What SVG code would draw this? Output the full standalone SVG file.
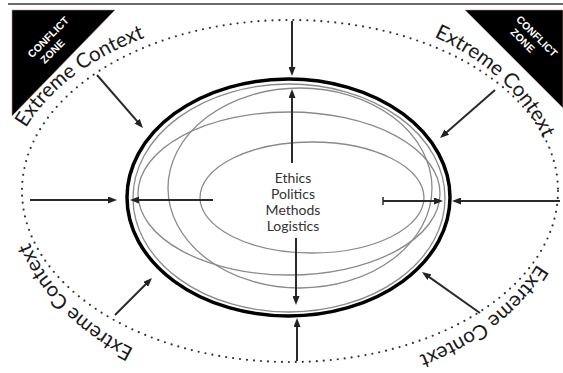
<svg xmlns="http://www.w3.org/2000/svg" width="563" height="373" viewBox="0 0 563 373">
  <style>
    .ctx { font-family: Lato, "Open Sans", sans-serif; font-size: 20.5px; fill: #1a1a1a; }
    .zone { font-family: "Liberation Sans", Arial, sans-serif; font-size: 10.5px; font-weight: bold; fill: #ffffff; text-anchor: middle; }
    .core { font-family: Lato, "Open Sans", sans-serif; font-size: 14px; fill: #333333; text-anchor: middle; }
    .ring { fill: none; stroke: #8a8a8a; stroke-width: 1.3; }
    .arr { stroke: #2a2a2a; stroke-width: 2; fill: none; marker-end: url(#ah); }
  </style>
  <defs>
    <marker id="ah" viewBox="0 0 9 7" refX="4" refY="3.5" markerWidth="9" markerHeight="7" orient="auto" markerUnits="userSpaceOnUse">
      <path d="M0,0 L9,3.5 L0,7 z" fill="#222222"/>
    </marker>
    <!-- baselines for the curved labels, all running clockwise -->
    <path id="arcTL" d="M 26,128 A 282,179 0 0 1 265.6,12.7"/>
    <path id="arcTR" d="M 434,36.8 A 264,184 0 0 1 545,238.6"/>
    <path id="arcBR" d="M 537,264 A 268,188 0 0 1 243.5,376.1"/>
    <path id="arcBL" d="M 134,349 A 272,198 0 0 1 22.1,156.6"/>
  </defs>

  <rect width="563" height="373" fill="#ffffff"/>

  <!-- top rule -->
  <line x1="8" y1="4" x2="563" y2="4" stroke="#6a6a6a" stroke-width="2"/>

  <!-- conflict zone corners -->
  <g id="zone-left">
    <polygon points="12,10 115,10 12,116" fill="#000000" stroke="#b89090" stroke-width="0.6"/>
    <g transform="translate(48,37) rotate(-45)">
      <text class="zone" x="0" y="4">CONFLICT</text>
      <text class="zone" x="-7" y="17">ZONE</text>
    </g>
  </g>
  <g id="zone-right">
    <polygon points="465,10 563,10 563,108" fill="#000000" stroke="#b89090" stroke-width="0.6"/>
    <g transform="translate(537,36) rotate(45)">
      <text class="zone" x="0" y="4">CONFLICT</text>
      <text class="zone" x="-7" y="17">ZONE</text>
    </g>
  </g>

  <!-- extreme context boundary -->
  <g id="context-boundary">
    <ellipse cx="290" cy="191" rx="268" ry="171" fill="none" stroke="#333333" stroke-width="2.2" stroke-linecap="round" stroke-dasharray="0 7"/>
  </g>

  <!-- curved labels -->
  <g id="labels">
    <text class="ctx"><textPath href="#arcTL">Extreme Context</textPath></text>
    <text class="ctx"><textPath href="#arcTR">Extreme Context</textPath></text>
    <text class="ctx"><textPath href="#arcBR">Extreme Context</textPath></text>
    <text class="ctx"><textPath href="#arcBL">Extreme Context</textPath></text>
  </g>

  <!-- research core: overlapping domains inside the project boundary -->
  <g id="core">
    <ellipse class="ring" cx="289" cy="198" rx="156" ry="114"/>
    <ellipse class="ring" cx="300" cy="188" rx="132" ry="100"/>
    <ellipse class="ring" cx="289" cy="193.5" rx="151" ry="81.5"/>
    <ellipse class="ring" cx="312" cy="197.5" rx="112" ry="55.5"/>
    <ellipse cx="288.5" cy="197.5" rx="161.5" ry="118.5" fill="none" stroke="#000000" stroke-width="3.5"/>
    <text class="core" x="293" y="183">Ethics</text>
    <text class="core" x="293" y="199">Politics</text>
    <text class="core" x="293" y="215">Methods</text>
    <text class="core" x="293" y="231">Logistics</text>
  </g>

  <!-- pressures inward and outward -->
  <g id="connectors">
    <line class="arr" x1="292" y1="21" x2="292" y2="71"/>
    <line class="arr" x1="292" y1="163" x2="292" y2="94"/>
    <line class="arr" x1="296" y1="238" x2="296" y2="300"/>
    <line class="arr" x1="297" y1="361" x2="297" y2="323"/>
    <line class="arr" x1="30" y1="200" x2="112" y2="200"/>
    <line class="arr" x1="213" y1="200" x2="135" y2="200"/>
    <line class="arr" x1="383" y1="201" x2="438" y2="201"/>
    <line x1="383" y1="197" x2="383" y2="205" stroke="#2a2a2a" stroke-width="1.5"/>
    <line class="arr" x1="560" y1="201" x2="457" y2="201"/>
    <line class="arr" x1="97" y1="75" x2="139.7" y2="124.2"/>
    <line class="arr" x1="495" y1="90" x2="443.8" y2="134.7"/>
    <line class="arr" x1="115" y1="315" x2="148.5" y2="281.5"/>
    <line class="arr" x1="480" y1="313" x2="426.1" y2="274.9"/>
  </g>
</svg>
